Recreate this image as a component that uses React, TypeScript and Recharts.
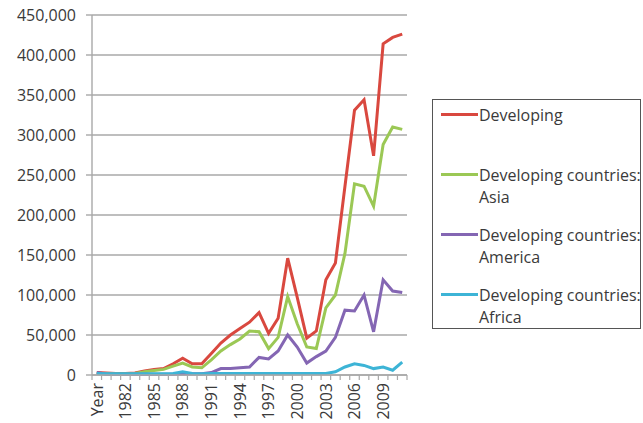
import React from 'react';
import { LineChart, Line, XAxis, YAxis, CartesianGrid } from 'recharts';

const years = [
  'Year', '1980', '1981', '1982', '1983', '1984', '1985', '1986', '1987', '1988', '1989',
  '1990', '1991', '1992', '1993', '1994', '1995', '1996', '1997', '1998', '1999',
  '2000', '2001', '2002', '2003', '2004', '2005', '2006', '2007', '2008', '2009',
  '2010', '2011',
];

const developing = [
  3000, 2500, 2000, 2000, 2500, 5000, 7000, 8000, 14000, 21000, 14000,
  14000, 27000, 40000, 50000, 58000, 66000, 78000, 52000, 71000, 146000,
  97000, 46000, 55000, 119000, 140000, 236000, 331000, 344000, 274000, 414000,
  422000, 426000,
];

const asia = [
  2000, 1500, 1500, 1500, 2000, 4000, 5500, 7000, 11000, 15000, 10000,
  9000, 19000, 30000, 38000, 45000, 55000, 54000, 33000, 47000, 98000,
  64000, 35000, 33000, 84000, 100000, 152000, 239000, 236000, 211000, 288000,
  310000, 307000,
];

const america = [
  3000, 1000, 1000, 1000, 1000, 1000, 1000, 1000, 1000, 1500, 1500,
  1500, 3000, 8000, 8000, 9000, 10000, 22000, 20000, 30000, 50000,
  35000, 15000, 23000, 30000, 47000, 81000, 80000, 100000, 54000, 119000,
  105000, 103000,
];

const africa = [
  2000, 1500, 1500, 1500, 1500, 1500, 1500, 1500, 2000, 4000, 2000,
  1500, 2000, 2000, 2000, 2000, 2000, 2000, 2000, 2000, 2000,
  2000, 2000, 2000, 2000, 4000, 10000, 14000, 12000, 8000, 10000,
  6000, 16000,
];

const yTicks = [0, 50000, 100000, 150000, 200000, 250000, 300000, 350000, 400000, 450000];

const seriesNames = [
  ['Developing'],
  ['Developing countries:', 'Asia'],
  ['Developing countries:', 'America'],
  ['Developing countries:', 'Africa'],
];

const colors = ['#D9483F', '#9BC855', '#8466B3', '#3DB4D6'];

const data = years.map((y, i) => ({
  year: y,
  developing: developing[i],
  asia: asia[i],
  america: america[i],
  africa: africa[i],
}));

const FONT = '"Open Sans", "Noto Sans", sans-serif';
const TEXT = '#3a3a3a';
const GRID = '#a8a8a8';

const XTick = (props: any) => {
  const { x, y, payload, index } = props;
  const half = payload && payload.offset ? payload.offset : 4.77;
  const axisY = y - 8;
  const last = years.length - 1;
  return (
    <g>
      <line x1={x - half} y1={axisY} x2={x - half} y2={axisY + 5} stroke={GRID} strokeWidth={1.2} />
      {index === last && (
        <line x1={x + half} y1={axisY} x2={x + half} y2={axisY + 5} stroke={GRID} strokeWidth={1.2} />
      )}
      {index % 3 === 0 && (
        <text
          transform={`translate(${x},${y}) rotate(-90)`}
          textAnchor="end"
          dy="0.36em"
          fontSize={16}
          fontFamily={FONT}
          fill={TEXT}
        >
          {payload.value}
        </text>
      )}
    </g>
  );
};

const legendRows = [
  { line: 114, text: 115 },
  { line: 174, text: 175 },
  { line: 234, text: 235 },
  { line: 294, text: 295 },
];

export default function App() {
  return (
    <div style={{ position: 'absolute', left: 0, top: 0, width: 643, height: 423, background: '#fff' }}>
      <LineChart
        width={643}
        height={423}
        data={data}
        margin={{ top: 15, right: 236, bottom: 0, left: 0 }}
      >
        <CartesianGrid vertical={false} stroke={GRID} strokeWidth={1.4} />
        <XAxis
          dataKey="year"
          scale="band"
          interval={0}
          height={48}
          tickSize={6}
          tickMargin={2}
          tickLine={false}
          axisLine={{ stroke: GRID, strokeWidth: 1.4 }}
          tick={<XTick />}
        />
        <YAxis
          width={92}
          domain={[0, 450000]}
          ticks={yTicks}
          interval={0}
          tickFormatter={(v: number) => v.toLocaleString('en-US')}
          tickSize={6}
          tickMargin={10}
          axisLine={{ stroke: GRID, strokeWidth: 1.4 }}
          tickLine={{ stroke: GRID, strokeWidth: 1.4 }}
          tick={{ fill: TEXT, fontSize: 16, fontFamily: FONT }}
        />
        <Line type="linear" dataKey="developing" stroke={colors[0]} strokeWidth={3} dot={false} isAnimationActive={false} />
        <Line type="linear" dataKey="asia" stroke={colors[1]} strokeWidth={3} dot={false} isAnimationActive={false} />
        <Line type="linear" dataKey="america" stroke={colors[2]} strokeWidth={3} dot={false} isAnimationActive={false} />
        <Line type="linear" dataKey="africa" stroke={colors[3]} strokeWidth={3} dot={false} isAnimationActive={false} />
      </LineChart>
      <div
        style={{
          position: 'absolute',
          left: 432,
          top: 99,
          width: 209,
          height: 230,
          border: '1px solid #555',
          boxSizing: 'border-box',
        }}
      />
      {legendRows.map((r, i) => (
        <React.Fragment key={i}>
          <div
            style={{
              position: 'absolute',
              left: 441,
              top: r.line - 1.5,
              width: 37,
              height: 3,
              background: colors[i],
            }}
          />
          <div
            style={{
              position: 'absolute',
              left: 479,
              top: r.text - 11,
              fontFamily: FONT,
              fontSize: 16,
              lineHeight: '22px',
              color: TEXT,
              whiteSpace: 'nowrap',
            }}
          >
            {seriesNames[i].map((t, j) => (
              <div key={j}>{t}</div>
            ))}
          </div>
        </React.Fragment>
      ))}
    </div>
  );
}
